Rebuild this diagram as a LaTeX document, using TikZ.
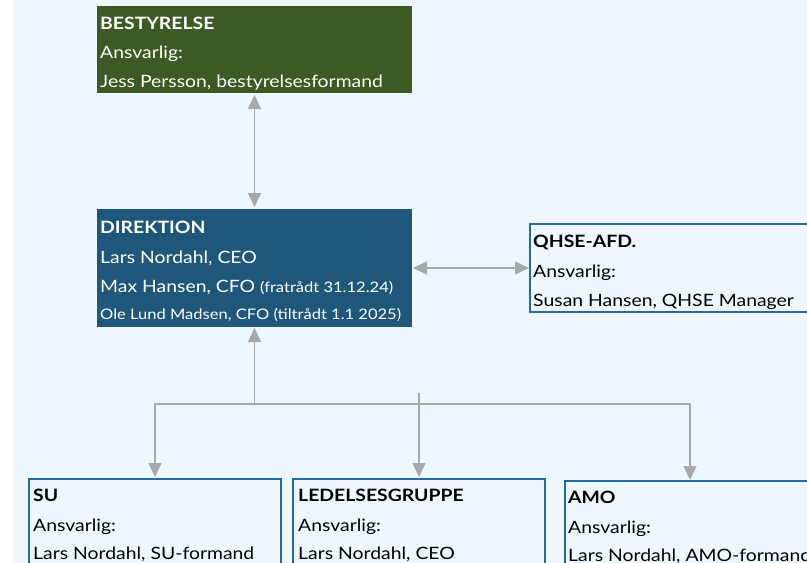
\documentclass[tikz,border=0pt]{standalone}
\usepackage{fontspec}
\setmainfont{Lato}[FakeStretch=1.14]
\usetikzlibrary{arrows.meta}
\definecolor{bgc}{HTML}{EFF7FE}
\definecolor{greenc}{HTML}{3B5A24}
\definecolor{bluec}{HTML}{1E5779}
\definecolor{borderc}{HTML}{1D6DA3}
\definecolor{arrc}{HTML}{A8A8A8}
\tikzset{
  boxbase/.style={inner sep=0pt, outer sep=0pt, anchor=north west},
  greenbox/.style={boxbase, fill=greenc},
  bluebox/.style={boxbase, fill=bluec},
  linebox/.style={boxbase, fill=bgc, draw=borderc, line width=1.5pt},
  txt/.style={inner sep=0pt, anchor=base west, font=\fontsize{17}{20}\selectfont},
  hd/.style={txt, font=\fontsize{17}{20}\selectfont\bfseries},
  wtxt/.style={txt, text=white},
  whd/.style={hd, text=white},
  conn/.style={draw=arrc, line width=1.5pt},
  tip/.style={-{Triangle[length=14pt,width=13pt]}},
  dtip/.style={{Triangle[length=14pt,width=13pt]}-{Triangle[length=14pt,width=13pt]}},
}
\newcommand{\smalltxt}{\fontsize{14.5}{16}\selectfont}
\begin{document}
\begin{tikzpicture}[x=1pt,y=-1pt]
\useasboundingbox (0,0) rectangle (807,563);
\clip (0,0) rectangle (807,563);
\fill[white] (0,0) rectangle (807,563);
\fill[bgc] (13,0) rectangle (807,563);

% boxes
\node[greenbox, minimum width=315pt, minimum height=87pt] (best) at (97,6) {};
\node[bluebox, minimum width=315pt, minimum height=118pt] (dir) at (97,209) {};
\node[linebox, minimum width=300pt, minimum height=88pt] (qhse) at (530,224) {};
\node[linebox, minimum width=252pt, minimum height=100pt] (su) at (29,479) {};
\node[linebox, minimum width=252pt, minimum height=100pt] (led) at (293,479) {};
\node[linebox, minimum width=250pt, minimum height=100pt] (amo) at (565,481) {};

% texts
\node[whd] (bestH) at (100,29) {BESTYRELSE};
\node[wtxt] (bestA) at (100,58) {Ansvarlig:};
\node[wtxt] (bestN) at (100,87) {Jess Persson, bestyrelsesformand};

\node[whd] (dirH) at (100,233) {DIREKTION};
\node[wtxt] (dirA) at (100,263) {Lars Nordahl, CEO};
\node[wtxt] (dirB) at (100,292) {Max Hansen, CFO {\smalltxt(fratrådt 31.12.24)}};
\node[wtxt, font=\smalltxt] (dirC) at (100,319) {Ole Lund Madsen, CFO (tiltrådt 1.1 2025)};

\node[hd] (qhseH) at (533,247) {QHSE-AFD.};
\node[txt] (qhseA) at (533,277) {Ansvarlig:};
\node[txt] (qhseN) at (533,306) {Susan Hansen, QHSE Manager};

\node[hd] (suH) at (33,501) {SU};
\node[txt] (suA) at (33,531) {Ansvarlig:};
\node[txt] (suN) at (33,559) {Lars Nordahl, SU-formand};

\node[hd] (ledH) at (298,501) {LEDELSESGRUPPE};
\node[txt] (ledA) at (298,531) {Ansvarlig:};
\node[txt] (ledN) at (298,559) {Lars Nordahl, CEO};

\node[hd] (amoH) at (568,503) {AMO};
\node[txt] (amoA) at (568,533) {Ansvarlig:};
\node[txt] (amoN) at (568,561) {Lars Nordahl, AMO-formand};

% connectors
\draw[conn, dtip, shorten <=2pt, shorten >=2pt] (best.south) -- (dir.north);
\draw[conn, dtip, shorten <=1pt, shorten >=1pt] (dir.east) -- (qhse.west);
\coordinate (junc) at (254.5,404);
\coordinate (midtop) at (419,393);
\draw[conn, tip, shorten >=1pt] (junc) -- (dir.south);
\draw[conn, tip, shorten >=2pt] (junc) -| (su.north);
\draw[conn, tip, shorten >=1pt] (junc) -| (amo.north);
\draw[conn, tip, shorten >=2pt] (midtop) -- (led.north);
\end{tikzpicture}
\end{document}
